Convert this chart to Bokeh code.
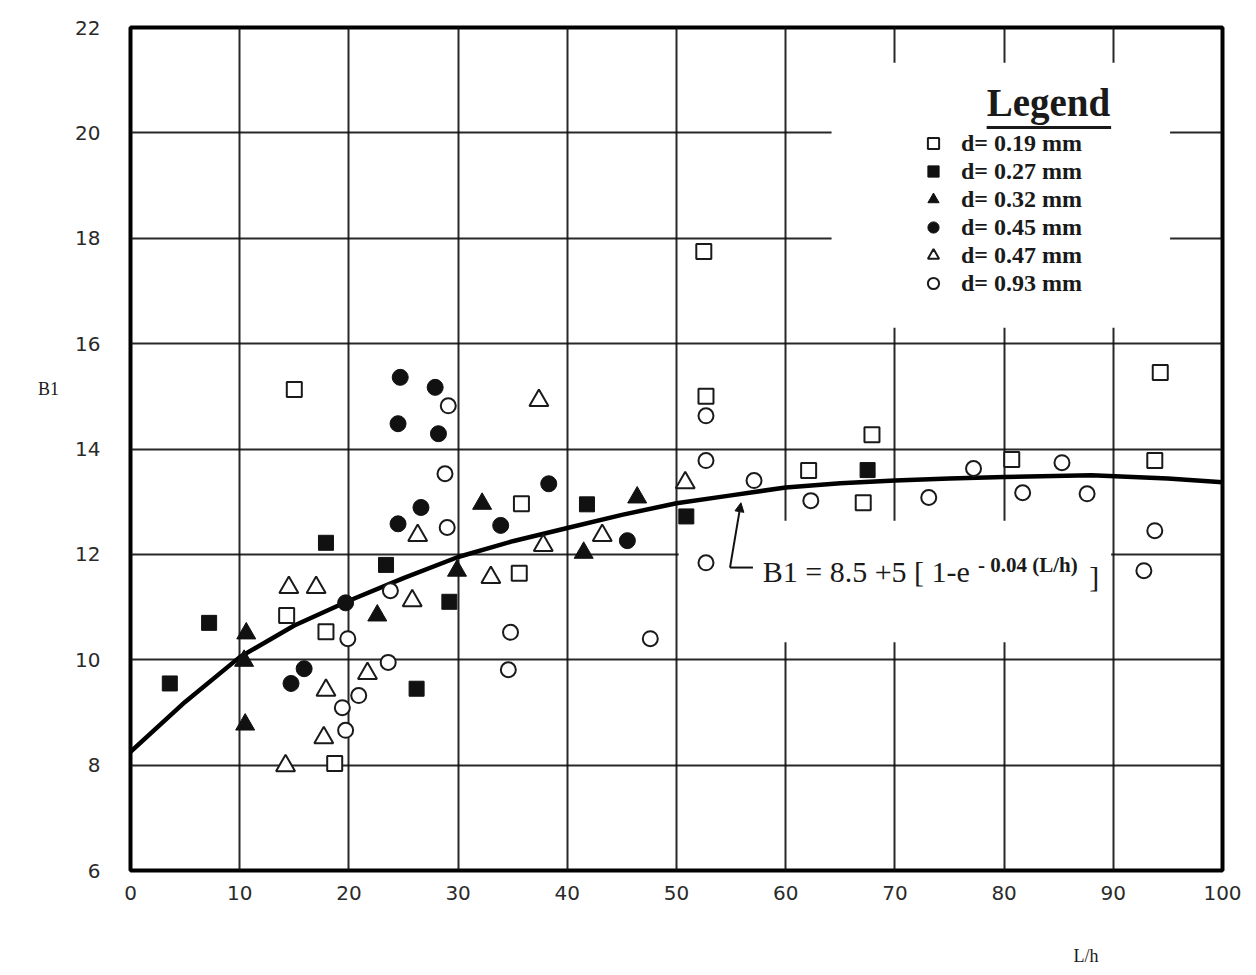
from bokeh.plotting import figure
from bokeh.models import (Range1d, FixedTicker, Label, Legend, LegendItem, Arrow, NormalHead, Title)
from bokeh.embed import file_html
from bokeh.resources import INLINE

# ---- data ----
sq_open_x = [15.0, 52.5, 52.7, 94.3, 67.9, 62.1, 80.7, 93.8, 67.1, 35.8, 35.6, 14.3, 17.9, 18.7]
sq_open_y = [15.13, 17.75, 15.0, 15.45, 14.27, 13.59, 13.8, 13.78, 12.98, 12.96, 11.64, 10.84, 10.53, 8.03]

sq_fill_x = [3.6, 7.2, 17.9, 23.4, 26.2, 29.2, 41.8, 50.9, 67.5]
sq_fill_y = [9.55, 10.7, 12.22, 11.8, 9.45, 11.1, 12.95, 12.72, 13.6]

tri_fill_x = [10.6, 10.4, 10.5, 22.6, 29.9, 32.2, 41.5, 46.4]
tri_fill_y = [10.5, 9.98, 8.77, 10.84, 11.69, 12.96, 12.03, 13.08]

cir_fill_x = [24.7, 27.9, 24.5, 28.2, 26.6, 24.5, 19.7, 15.9, 14.7, 38.3, 33.9, 45.5]
cir_fill_y = [15.36, 15.17, 14.48, 14.29, 12.89, 12.58, 11.08, 9.83, 9.55, 13.34, 12.55, 12.26]

tri_open_x = [26.3, 33.0, 14.5, 17.0, 25.8, 21.7, 17.9, 17.7, 14.2, 37.4, 37.8, 43.2, 50.8]
tri_open_y = [12.36, 11.56, 11.37, 11.37, 11.12, 9.74, 9.42, 8.52, 7.99, 14.92, 12.17, 12.36, 13.36]

cir_open_x = [29.1, 28.8, 29.0, 23.8, 19.9, 23.6, 20.9, 19.4, 19.7, 34.8, 34.6, 47.6,
              52.7, 52.7, 52.7, 57.1, 62.3, 73.1, 77.2, 81.7, 85.3, 87.6, 93.8, 92.8]
cir_open_y = [14.82, 13.53, 12.51, 11.31, 10.40, 9.95, 9.32, 9.09, 8.66, 10.52, 9.81, 10.40,
              14.63, 13.78, 11.84, 13.4, 13.02, 13.08, 13.63, 13.17, 13.74, 13.15, 12.45, 11.69]

# fitted curve as drawn
curve_x = [0, 5, 10, 15, 20, 25, 30, 35, 40, 45, 50, 55, 60, 65, 70, 75, 80, 88, 95, 100]
curve_y = [8.25, 9.2, 10.05, 10.65, 11.12, 11.55, 11.95, 12.25, 12.5, 12.75, 12.97, 13.12,
           13.27, 13.35, 13.4, 13.44, 13.47, 13.5, 13.44, 13.37]

legend_labels = ["d= 0.19 mm", "d= 0.27 mm", "d= 0.32 mm", "d= 0.45 mm", "d= 0.47 mm", "d= 0.93 mm"]
x_ticks = [0, 10, 20, 30, 40, 50, 60, 70, 80, 90, 100]
y_ticks = [6, 8, 10, 12, 14, 16, 18, 20, 22]

SERIF = "Liberation Serif"
SANS = "DejaVu Sans"
INK = "#1a1a1a"

p = figure(width=1248, height=975, output_backend="svg", toolbar_location=None,
           x_range=Range1d(0, 100), y_range=Range1d(6, 22),
           min_border_left=130, min_border_right=26, min_border_top=27, min_border_bottom=105)
p.background_fill_color = "white"
p.border_fill_color = "white"
p.outline_line_color = "black"
p.outline_line_width = 4

for ax in (p.xaxis[0], p.yaxis[0]):
    ax.axis_line_color = None
    ax.major_tick_line_color = None
    ax.minor_tick_line_color = None
    ax.major_tick_out = 0
    ax.major_tick_in = 0
    ax.minor_tick_out = 0
    ax.major_label_text_color = "#2a2a2a"
    ax.major_label_text_font = SANS
    ax.major_label_text_font_size = "20px"
p.xaxis.ticker = FixedTicker(ticks=x_ticks)
p.yaxis.ticker = FixedTicker(ticks=y_ticks)
p.xaxis.major_label_standoff = 15
p.yaxis.major_label_standoff = 30

p.yaxis.axis_label = "B1\n\n\n\n\n"
p.yaxis.axis_label_orientation = "horizontal"
p.yaxis.axis_label_text_font = SERIF
p.yaxis.axis_label_text_font_size = "18px"
p.yaxis.axis_label_text_font_style = "normal"
p.yaxis.axis_label_text_color = INK
p.yaxis.axis_label_standoff = 13

p.add_layout(Title(text="\n\nL/h", align="right", offset=124, standoff=2,
                   vertical_align="bottom", text_font=SERIF,
                   text_font_size="18px", text_font_style="normal", text_color=INK), "below")

p.xgrid.ticker = FixedTicker(ticks=x_ticks)
p.ygrid.ticker = FixedTicker(ticks=y_ticks)
for g in (p.xgrid[0], p.ygrid[0]):
    g.grid_line_color = "#111111"
    g.grid_line_width = 2
    g.grid_line_alpha = 0.9

# white areas hiding the grid behind the legend and the equation
p.quad(left=[64.2, 50.2], right=[95.2, 89.8], bottom=[16.3, 10.33], top=[21.33, 12.64],
       fill_color="white", line_color=None)

# curve
p.line(curve_x, curve_y, line_color="black", line_width=4.5)

lw = 2
r1 = p.scatter(sq_open_x, sq_open_y, marker="square", size=15, fill_color="white",
               line_color=INK, line_width=lw)
r2 = p.scatter(sq_fill_x, sq_fill_y, marker="square", size=15, fill_color="#111111",
               line_color="#111111", line_width=1)
r3 = p.scatter(tri_fill_x, tri_fill_y, marker="triangle", size=19, fill_color="#111111",
               line_color="#111111", line_width=1)
r4 = p.scatter(cir_fill_x, cir_fill_y, marker="circle", size=16, fill_color="#111111",
               line_color="#111111", line_width=1)
r5 = p.scatter(tri_open_x, tri_open_y, marker="triangle", size=19, fill_color="white",
               line_color=INK, line_width=lw)
r6 = p.scatter(cir_open_x, cir_open_y, marker="circle", size=15, fill_color="white",
               line_color=INK, line_width=lw)

legend = Legend(items=[LegendItem(label=l, renderers=[r]) for l, r in
                       zip(legend_labels, [r1, r2, r3, r4, r5, r6])],
                location=(786, 573), padding=0, margin=0, spacing=0,
                glyph_width=34, glyph_height=28, label_height=28, label_standoff=11,
                border_line_color=None, background_fill_alpha=0,
                label_text_font=SERIF, label_text_font_size="24px",
                label_text_font_style="bold", label_text_color=INK)
p.add_layout(legend, "center")

p.add_layout(Label(x=78.4, y=20.16, text="Legend", text_font=SERIF, text_font_size="39px",
                   text_font_style="bold", text_color=INK, text_baseline="bottom"))
p.line([78.4, 89.8], [20.1, 20.1], line_color=INK, line_width=3)

# equation with leader arrow
p.line([54.9, 57.0], [11.75, 11.75], line_color="#111111", line_width=2)
p.add_layout(Arrow(x_start=54.9, y_start=11.75, x_end=55.9, y_end=12.98, line_width=2,
                   line_color="#111111",
                   end=NormalHead(size=9, fill_color="#111111", line_color="#111111")))
p.add_layout(Label(x=57.9, y=11.68, text="B1  = 8.5 +5 [ 1-e", text_font=SERIF,
                   text_font_size="30px", text_color=INK, text_baseline="middle"))
p.add_layout(Label(x=77.6, y=11.8, text="- 0.04 (L/h)", text_font=SERIF,
                   text_font_size="21px", text_font_style="bold", text_color=INK,
                   text_baseline="middle"))
p.add_layout(Label(x=87.8, y=11.58, text="]", text_font=SERIF,
                   text_font_size="30px", text_color=INK, text_baseline="middle"))

open("out.html", "w").write(file_html(p, INLINE))
